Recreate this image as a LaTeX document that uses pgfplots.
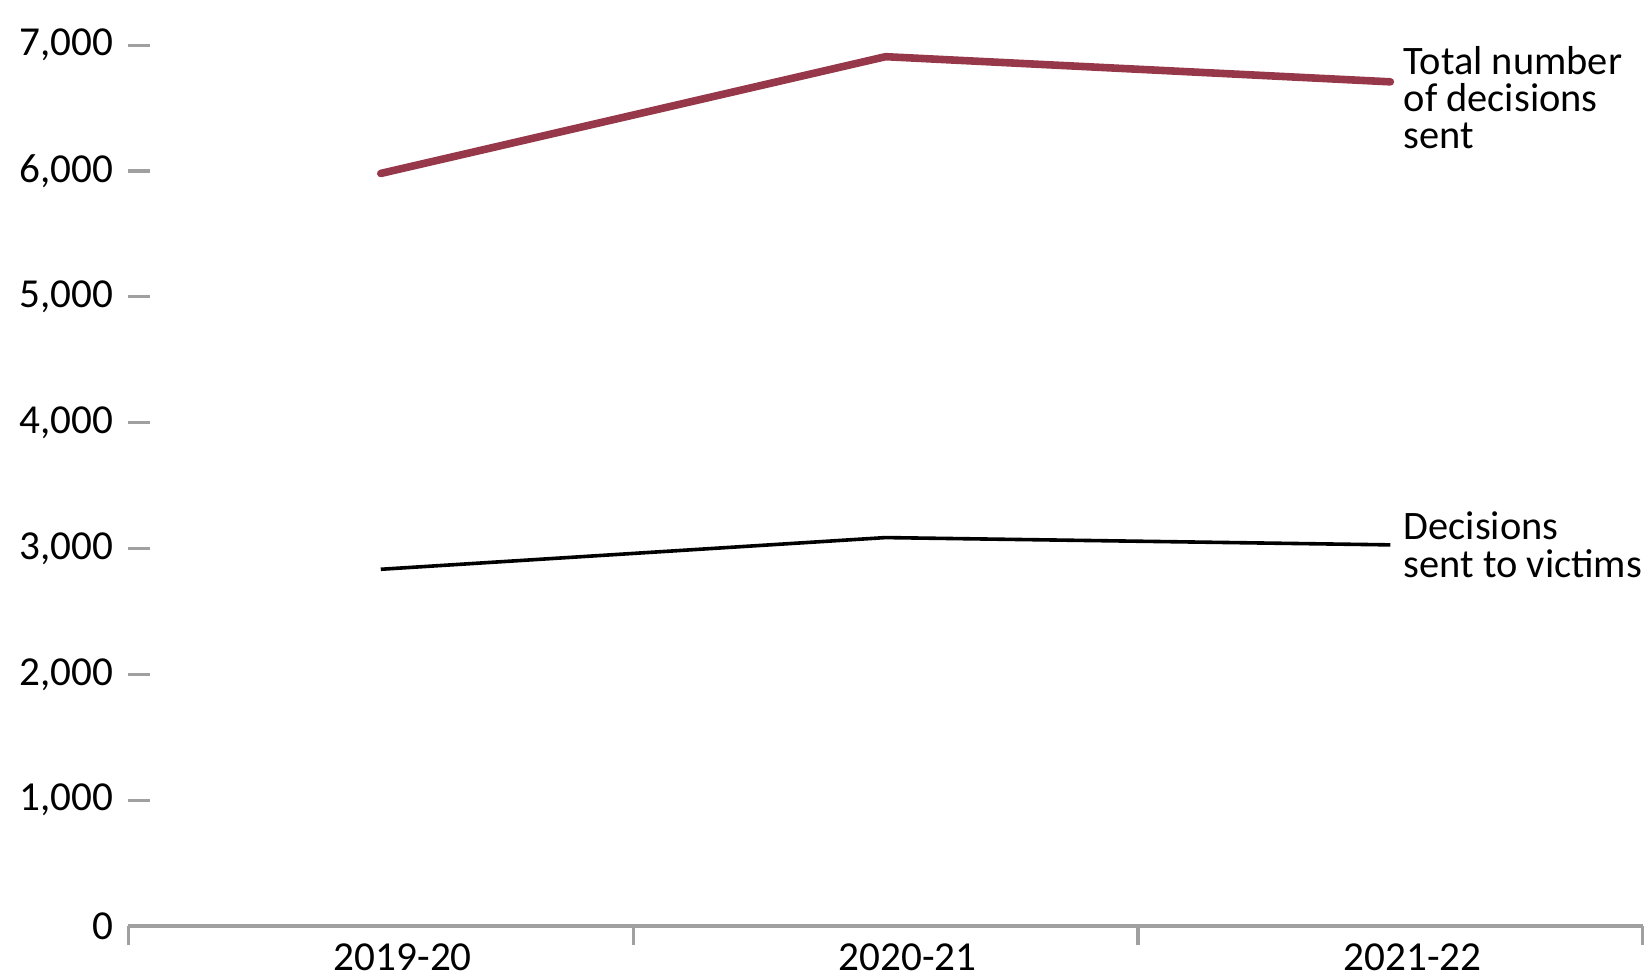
\documentclass[border=0pt]{standalone}
\usepackage{fontspec}
\setmainfont{Carlito}
\usepackage{pgfplots}
\pgfplotsset{compat=1.18}
\definecolor{redline}{RGB}{150,56,73}
\definecolor{axgray}{RGB}{160,160,160}
\begin{document}
\begin{tikzpicture}
\useasboundingbox (-32.1pt,-12.25pt) rectangle (380.4pt,231.5pt);
\begin{axis}[
  at={(0,0)}, anchor=south west,
  scale only axis, width=378.6pt, height=220.2pt,
  xmin=0, xmax=3, ymin=0, ymax=7000,
  clip=false,
  axis x line*=bottom, axis y line*=left,
  y axis line style={draw=none},
  x axis line style={axgray, line width=0.8pt, -},
  xtick={0.5,1.5,2.5}, xticklabels={2019-20,2020-21,2021-22},
  minor xtick={0,1,2,3},
  xtick align=outside, ytick align=inside,
  major tick length=5.5pt, minor tick length=4.75pt,
  every major x tick/.style={draw=none},
  every minor x tick/.style={axgray, line width=0.8pt},
  every major y tick/.style={axgray, line width=0.8pt},
  ytick={0,1000,...,7000},
  tick label style={font=\fontsize{10.3}{12}\selectfont},
  /pgf/number format/assume math mode=true,
  /pgf/number format/1000 sep={,},
  yticklabel style={xshift=-0.3pt},
  xticklabel style={inner ysep=0.8pt, yshift=2.0pt, xshift=5.5pt},
]
\addplot[redline, line width=1.9pt, line cap=round, line join=round] coordinates {(0.5,5981)(1.5,6909)(2.5,6709)};
\addplot[black, line width=0.9pt, line join=round] coordinates {(0.5,2835)(1.5,3087)(2.5,3029)};
\node[anchor=west, align=left, inner sep=0pt, font=\fontsize{10.1}{9.35}\selectfont] at (axis cs:2.525,6583) {Total number\\of decisions\\sent};
\node[anchor=west, align=left, inner sep=0pt, font=\fontsize{10.1}{9.35}\selectfont] at (axis cs:2.525,3029) {Decisions\\sent to victims};
\end{axis}
\end{tikzpicture}
\end{document}
